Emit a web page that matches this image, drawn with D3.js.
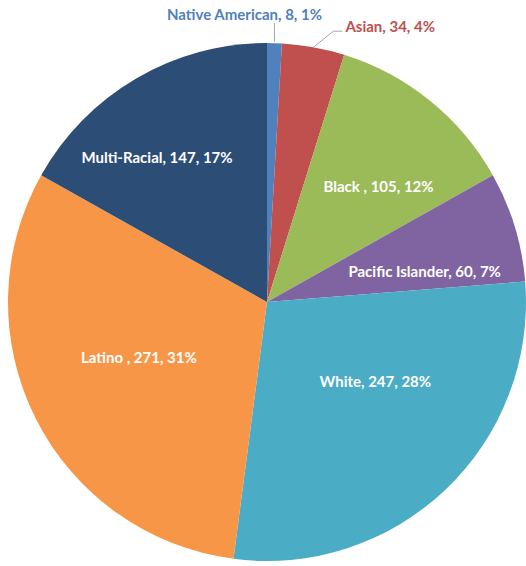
<!DOCTYPE html>
<html>
<head>
<meta charset="utf-8">
<script src="https://cdn.jsdelivr.net/npm/d3@7"></script>
<style>
  body { margin: 0; background: #fff; }
  text { font-family: Lato, "Open Sans", sans-serif; font-weight: bold; font-size: 15px; }
</style>
</head>
<body>
<svg id="chart" width="526" height="566"></svg>
<script>
// data
var groups = ["Native American", "Asian", "Black ", "Pacific Islander", "White", "Latino ", "Multi-Racial"];
var counts = [8, 34, 105, 60, 247, 271, 147];
var percents = ["1%", "4%", "12%", "7%", "28%", "31%", "17%"];
var colors = ["#4f81bd", "#c0504d", "#9bbb59", "#8064a2", "#4bacc6", "#f79646", "#2c4d75"];

// label placement: radius fraction and angle nudge (deg) for inside labels
var labelPlace = {
  "Black ": [0.62, 5], "Pacific Islander": [0.62, 6], "White": [0.52, -10],
  "Latino ": [0.54, 3], "Multi-Racial": [0.70, -7]
};

var svg = d3.select("#chart");
var cx = 267, cy = 302, r = 259;

var rows = groups.map(function(g, i) { return {name: g, value: counts[i], pct: percents[i], color: colors[i]}; });

var pie = d3.pie().sort(null).value(function(d) { return d.value; });
var arc = d3.arc().innerRadius(0).outerRadius(r);
var arcs = pie(rows);

var g = svg.append("g").attr("transform", "translate(" + cx + "," + cy + ")");

g.selectAll("path.slice")
  .data(arcs)
  .enter().append("path")
  .attr("class", "slice")
  .attr("d", arc)
  .style("fill", function(d) { return d.data.color; });

function labelText(d) { return d.data.name + ", " + d.data.value + ", " + d.data.pct; }

// inside labels
arcs.forEach(function(d) {
  var p = labelPlace[d.data.name];
  if (!p) return;
  var a = (d.startAngle + d.endAngle) / 2 + p[1] * Math.PI / 180;
  var rr = r * p[0];
  g.append("text")
    .attr("x", rr * Math.sin(a))
    .attr("y", -rr * Math.cos(a))
    .attr("dy", "0.35em")
    .attr("text-anchor", "middle")
    .style("fill", "#fff")
    .text(labelText(d));
});

// outside labels with leader lines
var na = arcs[0], as = arcs[1];
var aNa = (na.startAngle + na.endAngle) / 2;
var p0 = [r * Math.sin(aNa), -r * Math.cos(aNa)];
g.append("path")
  .attr("d", "M" + p0[0] + "," + (p0[1] - 1) + "V" + (p0[1] - 20))
  .style("stroke", "#a6a6a6").style("fill", "none").style("stroke-width", 1);
g.append("text")
  .attr("x", p0[0] - 30).attr("y", p0[1] - 28)
  .attr("dy", "0.35em")
  .attr("text-anchor", "middle")
  .style("fill", na.data.color)
  .text(labelText(na));

var aAs = (as.startAngle + as.endAngle) / 2;
var p1 = [r * Math.sin(aAs), -r * Math.cos(aAs)];
var elbow = [p1[0] + 20, p1[1] - 16];
g.append("path")
  .attr("d", "M" + p1[0] + "," + p1[1] + "L" + elbow[0] + "," + elbow[1] + "H" + (elbow[0] + 9))
  .style("stroke", "#a6a6a6").style("fill", "none").style("stroke-width", 1);
g.append("text")
  .attr("x", elbow[0] + 12).attr("y", elbow[1] - 4)
  .attr("dy", "0.35em")
  .attr("text-anchor", "start")
  .style("fill", as.data.color)
  .text(labelText(as));
</script>
</body>
</html>
